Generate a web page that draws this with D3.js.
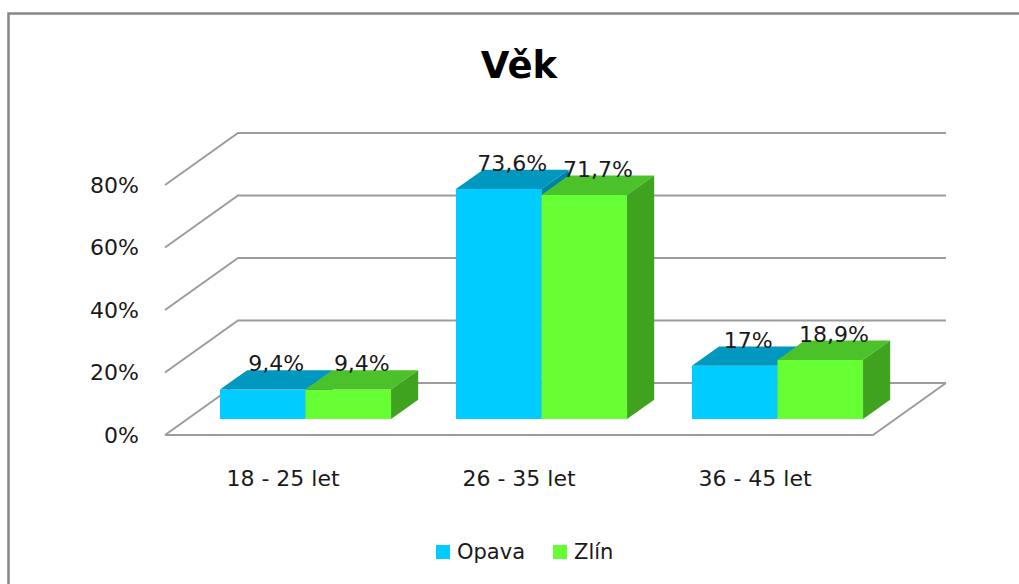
<html>
<head>
    <script src="https://d3js.org/d3.v7.min.js"></script>
    <style>
        body { margin: 0; background: #fff; }
        text { font-family: "DejaVu Sans", Verdana, sans-serif; }
    </style>
</head>
<body>
    <svg id="chart" width="1019" height="584"></svg>
    <script>
        const categories = ["18 - 25 let", "26 - 35 let", "36 - 45 let"];
        const seriesNames = ["Opava", "Zlín"];
        const opava = [9.4, 73.6, 17];
        const zlin = [9.4, 71.7, 18.9];
        const yTicks = [0, 20, 40, 60, 80];

        const colors = {
            "Opava": { front: "#00ccff", top: "#0098be", side: "#0082a6" },
            "Zlín": { front: "#66ff33", top: "#4cc22a", side: "#40a320" }
        };

        const svg = d3.select("svg#chart");

        // outer frame (runs off the right/bottom edge like the screenshot)
        svg.append("rect")
            .attr("x", 8.5).attr("y", 13.5)
            .attr("width", 1030).attr("height", 600)
            .attr("fill", "none")
            .attr("stroke", "#868686")
            .attr("stroke-width", 2.5);

        svg.append("text")
            .attr("x", 519).attr("y", 78)
            .attr("text-anchor", "middle")
            .attr("font-size", 37)
            .attr("font-weight", "bold")
            .attr("fill", "#000")
            .text("Věk");

        // front plane scales, depth goes back-right
        const y = d3.scaleLinear().domain([0, 80]).range([435, 185]);
        const x = d3.scaleBand().domain(categories).range([165, 873])
            .paddingInner(0.275).paddingOuter(0.1375);
        const xs = d3.scaleBand().domain(seriesNames).range([0, x.bandwidth()]);
        const depth = { dx: 73, dy: -52 };
        const f0 = 0.308, f1 = 0.68;

        const p = (xf, v, f) => [xf + f * depth.dx, y(v) + f * depth.dy];
        const line = d3.line();

        // gridlines: side wall diagonal + back wall horizontal
        svg.append("g").selectAll("path").data(yTicks)
            .join("path")
            .attr("d", t => line([p(165, t, 0), p(165, t, 1), p(873, t, 1)]))
            .attr("fill", "none")
            .attr("stroke", "#9c9c9c")
            .attr("stroke-width", 2);

        // floor front and right edges
        svg.append("path")
            .attr("d", line([p(165, 0, 0), p(873, 0, 0), p(873, 0, 1)]))
            .attr("fill", "none")
            .attr("stroke", "#9c9c9c")
            .attr("stroke-width", 2);

        svg.append("g").selectAll("text").data(yTicks)
            .join("text")
            .attr("x", 139)
            .attr("y", d => y(d))
            .attr("dy", "0.36em")
            .attr("text-anchor", "end")
            .attr("font-size", 22)
            .attr("fill", "#1a1a1a")
            .text(d => d + "%");

        const bars = [];
        categories.forEach((c, i) => {
            bars.push({ cat: c, s: "Opava", v: opava[i] });
            bars.push({ cat: c, s: "Zlín", v: zlin[i] });
        });

        const fmt = v => String(v).replace(".", ",") + "%";

        const g = svg.append("g");
        bars.forEach(b => {
            const x0 = x(b.cat) + xs(b.s);
            const w = xs.bandwidth();
            const c = colors[b.s];
            const tl = p(x0, b.v, f0), br = p(x0 + w, 0, f0);
            g.append("rect")
                .attr("x", tl[0]).attr("y", tl[1])
                .attr("width", br[0] - tl[0]).attr("height", br[1] - tl[1])
                .attr("fill", c.front);
            g.append("path")
                .attr("d", line([p(x0, b.v, f0), p(x0 + w, b.v, f0), p(x0 + w, b.v, f1), p(x0, b.v, f1)]) + "Z")
                .attr("fill", c.top);
            g.append("path")
                .attr("d", line([p(x0 + w, b.v, f0), p(x0 + w, 0, f0), p(x0 + w, 0, f1), p(x0 + w, b.v, f1)]) + "Z")
                .attr("fill", c.side);
        });

        svg.append("g").selectAll("text").data(bars)
            .join("text")
            .attr("x", d => x(d.cat) + xs(d.s) + xs.bandwidth() / 2 + (f0 + f1) / 2 * depth.dx)
            .attr("y", d => y(d.v) + f1 * depth.dy + 1)
            .attr("text-anchor", "middle")
            .attr("font-size", 22)
            .attr("fill", "#1a1a1a")
            .text(d => fmt(d.v));

        svg.append("g").selectAll("text").data(categories)
            .join("text")
            .attr("x", d => x(d) + x.bandwidth() / 2)
            .attr("y", 486)
            .attr("text-anchor", "middle")
            .attr("font-size", 22)
            .attr("fill", "#1a1a1a")
            .text(d => d);

        // legend
        const legendX = [436, 553];
        const legend = svg.append("g").selectAll("g").data(seriesNames)
            .join("g")
            .attr("transform", (d, i) => `translate(${legendX[i]},545)`);
        legend.append("rect")
            .attr("width", 14).attr("height", 14)
            .attr("fill", d => colors[d].front);
        legend.append("text")
            .attr("x", 21).attr("y", 14)
            .attr("font-size", 21)
            .attr("fill", "#1a1a1a")
            .text(d => d);
    </script>
</body>
</html>
